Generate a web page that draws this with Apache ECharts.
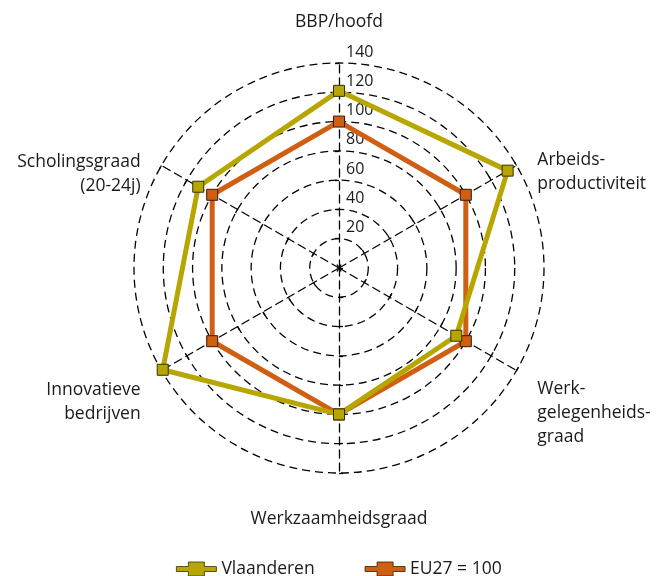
<!DOCTYPE html>
<html>
<head>
<meta charset="utf-8">
<script src="https://cdn.jsdelivr.net/npm/echarts@6/dist/echarts.min.js"></script>
<style>
html, body { margin: 0; padding: 0; background: #fff; }
#radar { width: 658px; height: 576px; }
</style>
</head>
<body>
<div id="radar"></div>
<script>
// indicators, counter-clockwise from the top (echarts radar order)
var indicatorNames = ['BBP/hoofd', 'Scholingsgraad\n(20-24j)', 'Innovatieve\nbedrijven',
  'Werkzaamheidsgraad', 'Werk-\ngelegenheids-\ngraad', 'Arbeids-\nproductiviteit'];
var vlaanderen = [121, 111, 139, 100, 92.5, 133];
var eu27 = [100, 100, 100, 100, 100, 100];
var scaleMax = 140;
var scaleSplits = 7;
var seriesNames = ['Vlaanderen', 'EU27 = 100'];

var FONT = '"Open Sans", sans-serif';
var OLIVE = '#b8a600';
var ORANGE = '#d05f14';

// extra space above / below the names so they sit like in the original
var nameSpacer = [
  {bottom: 5}, {top: 41}, {top: 39}, {top: 10}, {top: 61}, {top: 37}
];

var nameFormatter = function (value) {
  var idx = indicatorNames.indexOf(value);
  var sp = nameSpacer[idx] || {};
  var lines = value.split('\n').map(function (l) {
    return '{t|' + l + '}';
  });
  var txt = lines.join('\n');
  if (sp.top) txt = '{s' + sp.top + '| }\n' + txt;
  if (sp.bottom) txt = txt + '\n{s' + sp.bottom + '| }';
  return txt;
};

var rich = {
  t: {fontFamily: FONT, fontSize: 17.5, lineHeight: 24, color: '#1a1a1a'}
};
nameSpacer.forEach(function (sp) {
  [sp.top, sp.bottom].forEach(function (h) {
    if (h) rich['s' + h] = {fontSize: 1, lineHeight: h, height: h};
  });
});

// legend icon: line with a square in the middle
var legendIcon = 'path://M0,4.5L12,4.5L12,0L28,0L28,4.5L40,4.5L40,9.5L28,9.5L28,14L12,14L12,9.5L0,9.5Z';

var myChart = echarts.init(document.getElementById('radar'));

var option = {
  backgroundColor: '#fff',
  animation: false,
  legend: {
    data: [
      {name: seriesNames[0], icon: legendIcon},
      {name: seriesNames[1], icon: legendIcon}
    ],
    top: 555,
    left: 171,
    itemWidth: 40,
    itemHeight: 14,
    itemGap: 50,
    itemStyle: {borderWidth: 0.8},
    textStyle: {fontFamily: FONT, fontSize: 17.5, color: '#1a1a1a'}
  },
  radar: {
    center: [339, 268],
    radius: 205,
    shape: 'circle',
    startAngle: 90,
    splitNumber: scaleSplits,
    nameGap: 24,
    indicator: indicatorNames.map(function (n, i) {
      var o = {name: n, min: 0, max: scaleMax};
      if (i === 0) {
        o.axisLabel = {show: true};
      }
      return o;
    }),
    axisName: {
      formatter: nameFormatter,
      rich: rich,
      fontFamily: FONT,
      fontSize: 17.5,
      color: '#1a1a1a'
    },
    axisLine: {lineStyle: {color: '#000', type: [8, 5], width: 1.3}},
    splitLine: {lineStyle: {color: '#000', type: [8, 5], width: 1.3}},
    splitArea: {show: false},
    axisTick: {show: true, length: 4, lineStyle: {color: '#000', width: 1.3}},
    axisLabel: {
      show: false,
      showMinLabel: false,
      fontFamily: FONT,
      fontSize: 16,
      color: '#1a1a1a',
      margin: -7,
      align: 'left',
      verticalAlign: 'bottom',
      padding: [0, 0, 3, 0]
    }
  },
  series: [{
    type: 'radar',
    symbol: 'rect',
    symbolSize: 11,
    data: [{
      name: seriesNames[1],
      value: eu27,
      lineStyle: {color: ORANGE, width: 5},
      itemStyle: {color: ORANGE, borderColor: '#3a1a00', borderWidth: 1}
    }, {
      name: seriesNames[0],
      value: vlaanderen,
      lineStyle: {color: OLIVE, width: 5},
      itemStyle: {color: OLIVE, borderColor: '#333000', borderWidth: 1}
    }]
  }]
};
myChart.setOption(option);
</script>
</body>
</html>
